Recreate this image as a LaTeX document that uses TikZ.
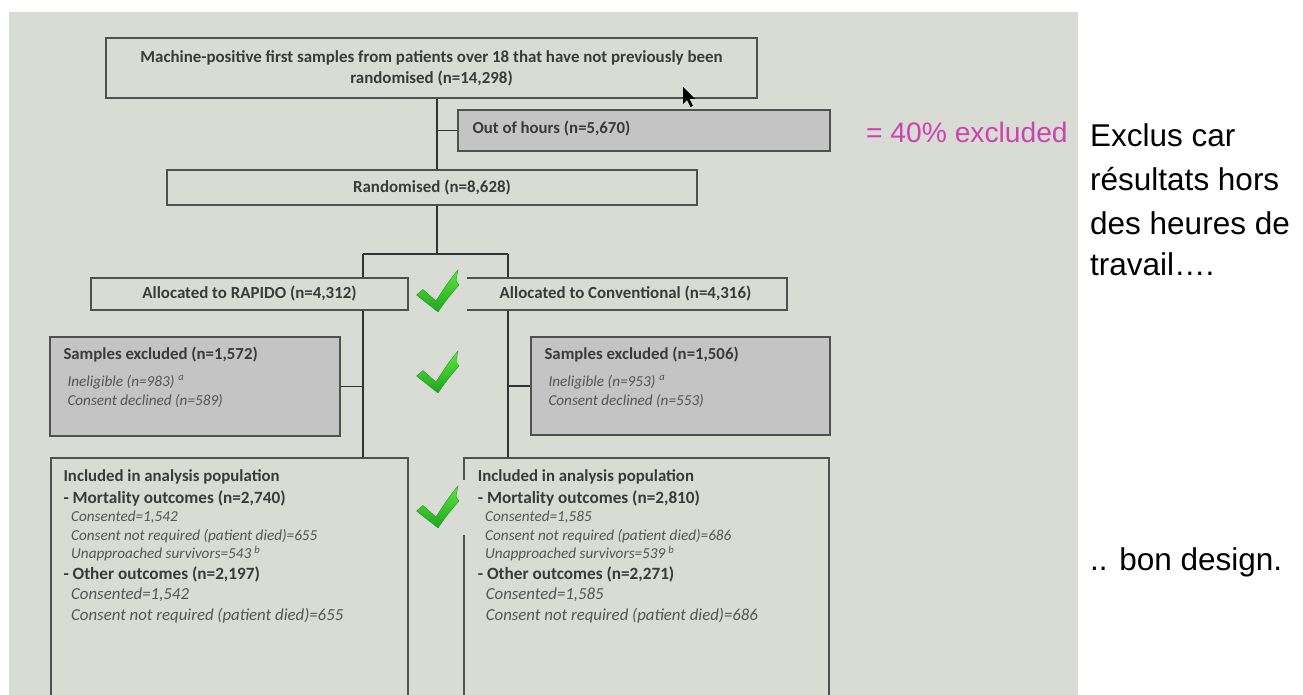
\documentclass[tikz,border=0pt]{standalone}
\usepackage{fontspec}
\setmainfont{Carlito}
\newfontfamily\arialf{Liberation Sans}
\definecolor{slidebg}{HTML}{D9DBD5}
\definecolor{boxline}{HTML}{505050}
\definecolor{graybox}{HTML}{C4C4C4}
\definecolor{txt}{HTML}{3A3A3A}
\definecolor{ittxt}{HTML}{555555}
\definecolor{magentatxt}{HTML}{CC44B0}
\definecolor{linec}{HTML}{333333}
\definecolor{chkhi}{HTML}{5AE83A}
\definecolor{chklo}{HTML}{1FA51F}
\begin{document}
\begin{tikzpicture}[x=1pt,y=-1pt,
  box/.style={draw=boxline,line width=1.3pt,inner sep=0pt,text=txt,font=\fontsize{16.9}{21}\selectfont\bfseries},
  grbox/.style={box,fill=graybox},
  conn/.style={draw=linec,line width=1.3pt},
  bt/.style={anchor=base west,inner sep=0pt,text=txt,font=\fontsize{16.8}{20}\selectfont\bfseries},
  bth/.style={anchor=base west,inner sep=0pt,text=txt,font=\fontsize{17.2}{20}\selectfont\bfseries},
  its/.style={anchor=base west,inner sep=0pt,text=ittxt,font=\fontsize{15.2}{18}\selectfont\itshape},
  itl/.style={anchor=base west,inner sep=0pt,text=ittxt,font=\fontsize{16.8}{20}\selectfont\itshape},
  note/.style={anchor=base west,inner sep=0pt,text=black,font=\arialf\fontsize{31.5}{40}\selectfont},
  chk/.pic={\shade[top color=chkhi,bottom color=chklo,draw=chklo!85!black,line width=0.3pt]
     (0.5,25) -- (7,19.5) -- (20,31) .. controls (27,20) and (34,9) .. (42,0)
     -- (40,11) -- (43,15) .. controls (35,24) and (28,33) .. (22,42) -- cycle;}
]
\useasboundingbox (0,0) rectangle (1303,695);
\clip (0,0) rectangle (1303,695);
\fill[white] (0,0) rectangle (1303,695);
\fill[slidebg] (9,12) rectangle (1078,695);

% junction coordinates
\coordinate (trunk) at (437,0);
\coordinate (xl) at (363,0);
\coordinate (xr) at (508,0);
\coordinate (split) at (437,254);

% boxes
\node[box,minimum width=651pt,minimum height=60pt,align=center] (top) at (431.5,68)
  {Machine-positive first samples from patients over 18 that have not previously been\\randomised (n=14,298)};
\node[grbox,minimum width=372pt,minimum height=41pt] (ooh) at (644,130.5) {};
\node[bt] (oohtxt) at (472.3,133.3) {Out of hours (n=5,670)};
\node[box,minimum width=530pt,minimum height=35pt] (rand) at (432,187.5) {Randomised (n=8,628)};
\node[box,minimum width=317pt,minimum height=32pt] (rap) at (249.5,294) {Allocated to RAPIDO (n=4,312)};
\node[box,minimum width=323pt,minimum height=32pt] (conv) at (625.5,294) {Allocated to Conventional (n=4,316)};
\node[grbox,minimum width=290pt,minimum height=99pt] (exclL) at (195,386.5) {};
\node[grbox,minimum width=299pt,minimum height=98pt] (exclR) at (680.5,386) {};
\node[box,minimum width=357pt,minimum height=242pt] (inclL) at (229.5,579) {};
\node[box,minimum width=365pt,minimum height=242pt] (inclR) at (646.5,579) {};

% connectors
\draw[conn] (top.south -| trunk) -- (rand.north -| trunk);
\draw[conn] (ooh.west) -- (ooh.west -| trunk);
\draw[conn] (rand.south -| trunk) -- (split);
\draw[conn] (split -| xl) -- (split -| xr);
\draw[conn] (split -| xl) -- (rap.north -| xl);
\draw[conn] (split -| xr) -- (conv.north -| xr);
\draw[conn] (rap.south -| xl) -- (inclL.north -| xl);
\draw[conn] (conv.south -| xr) -- (inclR.north -| xr);
\draw[conn] (exclL.east) -- (exclL.east -| xl);
\draw[conn] (exclR.west) -- (exclR.west -| xr);

% excluded texts
\node[bt] (exLh) at (63.3,359.3) {Samples excluded (n=1,572)};
\node[its] (exL1) at (67.3,386) {Ineligible (n=983)\hspace{4pt}\textsuperscript{a}};
\node[its] (exL2) at (67.3,405) {Consent declined (n=589)};
\node[bt] (exRh) at (544.3,359.3) {Samples excluded (n=1,506)};
\node[its] (exR1) at (548.3,386) {Ineligible (n=953)\hspace{4pt}\textsuperscript{a}};
\node[its] (exR2) at (548.3,405) {Consent declined (n=553)};

% included texts, left
\node[bt] (inL0) at (63.3,481.7) {Included in analysis population};
\node[bth] (inL1) at (63.3,503.3) {- Mortality outcomes (n=2,740)};
\node[its] (inL2) at (71,521.7) {Consented=1,542};
\node[its] (inL3) at (71,540) {Consent not required (patient died)=655};
\node[its] (inL4) at (71,558.7) {Unapproached survivors=543\hspace{3pt}\textsuperscript{b}};
\node[bth] (inL5) at (63.3,579.7) {- Other outcomes (n=2,197)};
\node[itl] (inL6) at (71,599.3) {Consented=1,542};
\node[itl] (inL7) at (71,620.7) {Consent not required (patient died)=655};

% included texts, right
\node[bt] (inR0) at (477.7,481.7) {Included in analysis population};
\node[bth] (inR1) at (477.7,503.3) {- Mortality outcomes (n=2,810)};
\node[its] (inR2) at (485,521.7) {Consented=1,585};
\node[its] (inR3) at (485,540) {Consent not required (patient died)=686};
\node[its] (inR4) at (485,558.7) {Unapproached survivors=539\hspace{3pt}\textsuperscript{b}};
\node[bth] (inR5) at (477.7,579.7) {- Other outcomes (n=2,271)};
\node[itl] (inR6) at (485.7,599.3) {Consented=1,585};
\node[itl] (inR7) at (485.7,620.7) {Consent not required (patient died)=686};

% check marks (each on its own slide-coloured tile)
\fill[slidebg] (410,266) rectangle (467,318);
\fill[slidebg] (410,480) rectangle (467,535);
\pic at (416,270) {chk};
\pic at (416,351) {chk};
\pic at (416,486) {chk};

% mouse pointer
\fill[black] (683,87) -- ++(0,17) -- ++(4,-4) -- ++(3.5,7) -- ++(2.5,-1.2)
  -- ++(-3.5,-6.8) -- ++(5.5,0) -- cycle;

% annotations
\node[anchor=base west,inner sep=0pt,text=magentatxt,font=\arialf\fontsize{28.2}{32}\selectfont] (pct) at (866,143) {= 40\% excluded};
\node[note] (n1) at (1090,147) {Exclus car};
\node[note] (n2) at (1090,191) {résultats hors};
\node[note] (n3) at (1090,234) {des heures de};
\node[note] (n4) at (1090,275) {travail….};
\node[note] (n5) at (1090,570) {.. bon design.};
\end{tikzpicture}
\end{document}
